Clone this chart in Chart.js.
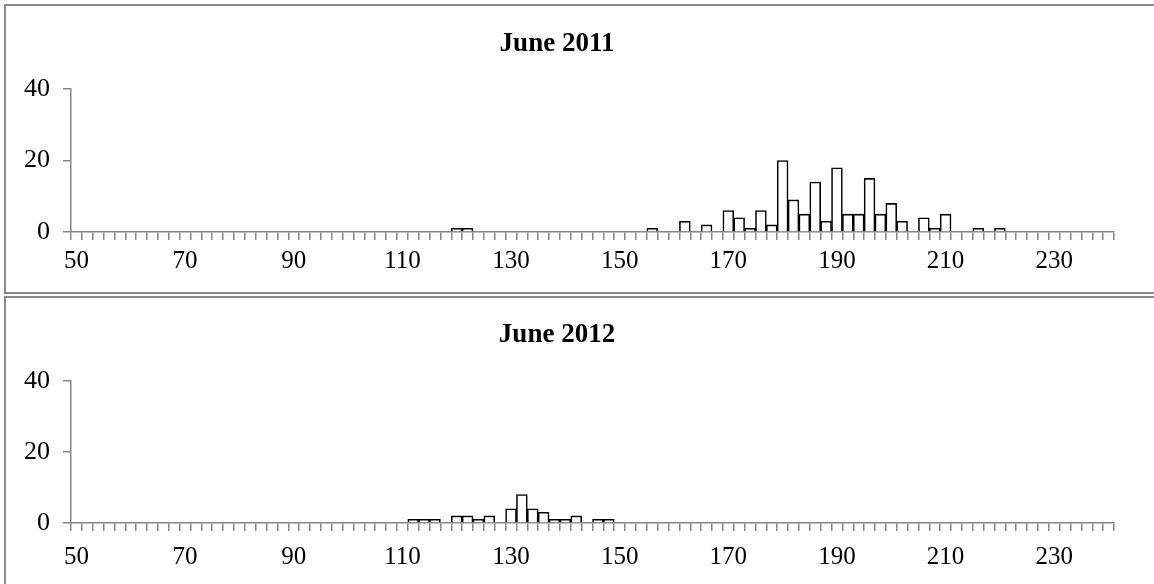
<!DOCTYPE html>
<html>
<head>
<meta charset="utf-8">
<script src="https://cdn.jsdelivr.net/npm/chart.js@4.4.1/dist/chart.umd.min.js"></script>
<style>
  body { margin: 0; background: #fff; width: 1154px; height: 584px; overflow: hidden; position: relative; }
  .panel { position: absolute; left: 4px; width: 1200px; border: 2px solid #8a8a8a; }
  .holder { position: absolute; left: 0; width: 1154px; }
</style>
</head>
<body>
<div class="panel" style="top:4px; height:286px;"></div>
<div class="panel" style="top:296px; height:300px;"></div>
<div class="holder" style="top:0px; height:292px;"><canvas id="chart2011"></canvas></div>
<div class="holder" style="top:294px; height:290px;"><canvas id="chart2012"></canvas></div>
<script>
// bins of width 2, from 50 to 240
const binLabels = [];
for (let b = 50; b <= 240; b += 2) binLabels.push(String(b));

// June 2011 (only the non-empty bins)
const bins2011 = [120, 122, 156, 162, 166, 170, 172, 174, 176, 178, 180, 182, 184, 186, 188, 190, 192, 194, 196, 198, 200, 202, 206, 208, 210, 216, 220];
const counts2011 = [1, 1, 1, 3, 2, 6, 4, 1, 6, 2, 20, 9, 5, 14, 3, 18, 5, 5, 15, 5, 8, 3, 4, 1, 5, 1, 1];

// June 2012
const bins2012 = [112, 114, 116, 120, 122, 124, 126, 130, 132, 134, 136, 138, 140, 142, 146, 148];
const counts2012 = [1, 1, 1, 2, 2, 1, 2, 4, 8, 4, 3, 1, 1, 2, 1, 1];

const yTicks = [0, 20, 40];

const axisGray = '#878787';
const serif = 'Liberation Serif';

function makeChart(id, title, bins, counts, lay) {
    const ctx = document.getElementById(id).getContext('2d');
    return new Chart(ctx, {
        type: 'bar',
        data: {
            labels: binLabels,
            datasets: [{
                label: title,
                data: bins.map((b, i) => ({ x: String(b), y: counts[i] })),
                backgroundColor: '#ffffff',
                borderColor: '#000000',
                borderWidth: 1.6,
                barPercentage: 1,
                categoryPercentage: 1
            }]
        },
        options: {
            responsive: true,
            maintainAspectRatio: false,
            animation: false,
            layout: { padding: { left: 0, right: 40, top: lay.top, bottom: lay.bottom } },
            plugins: {
                legend: { display: false },
                tooltip: { enabled: false },
                title: {
                    display: true,
                    text: title,
                    color: '#000',
                    font: { family: serif, size: 27, weight: 'bold' },
                    padding: { top: lay.titleTop, bottom: lay.titleBottom }
                }
            },
            scales: {
                x: {
                    type: 'category',
                    border: { color: axisGray, width: 1.5 },
                    grid: { offset: true, drawOnChartArea: false, color: axisGray, lineWidth: 1.5, tickLength: 8 },
                    ticks: {
                        autoSkip: false,
                        maxRotation: 0,
                        color: '#000',
                        padding: lay.xPad,
                        font: { family: serif, size: 25 },
                        callback: function (val, index) {
                            return index % 10 === 0 ? this.getLabelForValue(val) : '';
                        }
                    }
                },
                y: {
                    min: yTicks[0],
                    max: yTicks[yTicks.length - 1],
                    afterFit: (scale) => { scale.width = 71; },
                    afterBuildTicks: (scale) => { scale.ticks = yTicks.map(v => ({ value: v })); },
                    border: { color: axisGray, width: 1.5 },
                    grid: { drawOnChartArea: false, color: axisGray, lineWidth: 1.5, tickLength: 8 },
                    ticks: {
                        color: '#000',
                        padding: 13,
                        font: { family: serif, size: 26 }
                    }
                }
            }
        }
    });
}

makeChart('chart2011', 'June 2011', bins2011, counts2011,
    { top: 10, titleTop: 17.4, titleBottom: 29.4, xPad: 6, bottom: 10 });
makeChart('chart2012', 'June 2012', bins2012, counts2012,
    { top: 8, titleTop: 16.8, titleBottom: 29.8, xPad: 11, bottom: 1 });
</script>
</body>
</html>
